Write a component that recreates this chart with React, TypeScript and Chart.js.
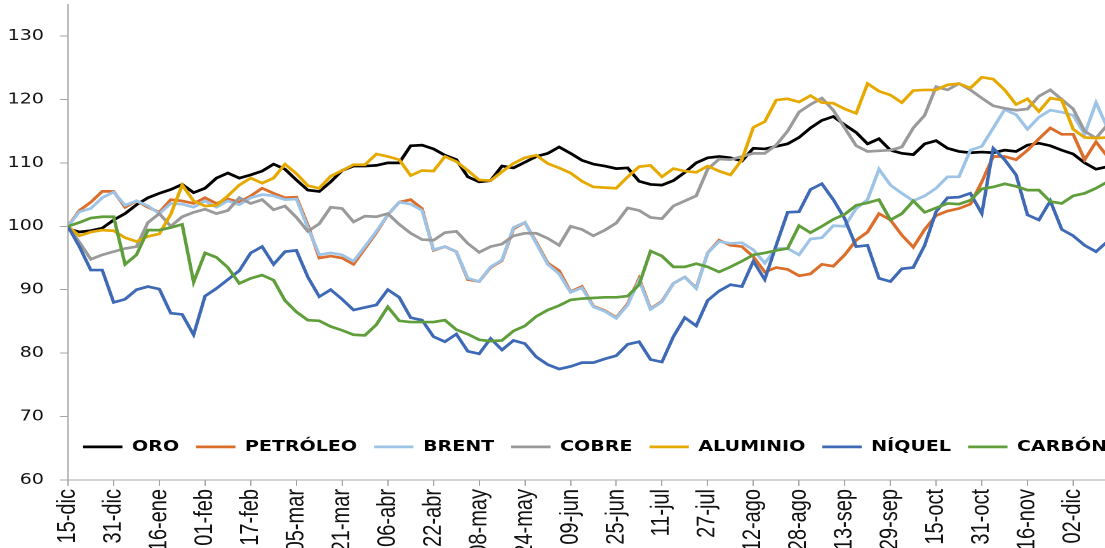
import React, { useEffect, useRef } from 'react';
import { Chart, registerables } from 'chart.js';

Chart.register(...registerables);

// Day offsets from 15-dic (x values of every sampled point)
const DAYS = [
  0, 4, 8, 12, 16, 20, 24, 28, 32, 36, 40, 44, 48, 52, 56, 60, 64, 68, 72, 76,
  80, 84, 88, 92, 96, 100, 104, 108, 112, 116, 120, 124, 128, 132, 136, 140, 144, 148, 152, 156,
  160, 164, 168, 172, 176, 180, 184, 188, 192, 196, 200, 204, 208, 212, 216, 220, 224, 228, 232, 236,
  240, 244, 248, 252, 256, 260, 264, 268, 272, 276, 280, 284, 288, 292, 296, 300, 304, 308, 312, 316,
  320, 324, 328, 332, 336, 340, 344, 348, 352, 356, 360, 364,
];

const TICK_LABELS = [
  '15-dic', '31-dic', '16-ene', '01-feb', '17-feb', '05-mar', '21-mar', '06-abr', '22-abr', '08-may',
  '24-may', '09-jun', '25-jun', '11-jul', '27-jul', '12-ago', '28-ago', '13-sep', '29-sep', '15-oct',
  '31-oct', '16-nov', '02-dic',
];

const ORO = [
  99.6, 99.1, 99.3, 99.7, 101, 102, 103.4, 104.5, 105.2, 105.8,
  106.6, 105.3, 106, 107.6, 108.4, 107.6, 108.1, 108.7, 109.8, 109,
  107.3, 105.7, 105.5, 107, 108.8, 109.5, 109.5, 109.6, 110, 110,
  112.7, 112.8, 112.2, 111.2, 110.5, 107.8, 107, 107.2, 109.5, 109.2,
  110.1, 111, 111.5, 112.5, 111.5, 110.4, 109.8, 109.5, 109.1, 109.2,
  107.1, 106.6, 106.5, 107.2, 108.5, 110, 110.8, 111, 110.8, 110.3,
  112.3, 112.2, 112.6, 113, 114, 115.5, 116.7, 117.3, 116, 114.8,
  113, 113.8, 112, 111.5, 111.3, 113, 113.5, 112.3, 111.8, 111.6,
  111.7, 111.6, 112, 111.8, 112.8, 113.1, 112.7, 112, 111.4, 110,
  109, 109.4,
];

const PETROLEO = [
  100, 102.5, 103.8, 105.5, 105.5, 103, 104, 103, 102.2, 104.2,
  104, 103.6, 104.5, 103.6, 104.3, 103.8, 104.8, 106, 105.2, 104.5,
  104.6, 100.2, 95, 95.3, 95, 94, 96.5, 99, 101.8, 103.8,
  104.2, 102.8, 96.2, 96.8, 96, 91.6, 91.3, 93.5, 94.6, 99.6,
  100.6, 97.5, 94.2, 93, 89.7, 90.5, 87.4, 86.7, 85.6, 87.8,
  91.8, 87, 88.2, 91, 92, 90.3, 95.8, 97.8, 97, 96.8,
  95.2, 92.8, 93.5, 93.2, 92.2, 92.5, 94, 93.7, 95.5, 97.8,
  99.1, 102, 101, 98.6, 96.7, 99.5, 101.7, 102.4, 102.8, 103.5,
  107, 111, 111, 110.5, 112, 113.8, 115.5, 114.5, 114.5, 110.5,
  113.3, 111,
];

const BRENT = [
  100, 102.3, 102.8, 104.5, 105.4, 103.3, 104, 103.2, 102, 103.6,
  103.5, 103, 104, 103, 104, 103.4, 104.5, 105, 104.8, 104.2,
  104.3, 99.8, 95.5, 95.8, 95.5, 94.5, 96.8, 99.2, 101.8, 103.8,
  103.5, 102.5, 96.3, 96.8, 96, 91.8, 91.3, 93.6, 94.7, 99.8,
  100.6, 97.3, 94, 92.5, 89.6, 90.3, 87.3, 86.6, 85.5, 87.6,
  91.5, 86.9, 88.1, 91, 92, 90.2, 95.8, 97.6, 97.3, 97.4,
  96.3, 94.2, 96.5, 96.5, 95.5, 98, 98.2, 100.1, 100, 102.8,
  104.2, 109, 106.5, 105.2, 104, 104.8, 106, 107.8, 107.8, 112,
  112.6, 115.5, 118.4, 117.6, 115.3, 117.2, 118.3, 118, 117.5, 114.5,
  119.5, 115.5,
];

const COBRE = [
  100, 97.5, 94.8, 95.5, 96, 96.5, 96.8, 100.6, 102, 100,
  101.5, 102.2, 102.7, 102, 102.5, 104.5, 103.6, 104.2, 102.6, 103.2,
  101.4, 99.2, 100.4, 103, 102.8, 100.7, 101.6, 101.5, 102, 100.3,
  98.9, 97.9, 97.8, 99, 99.2, 97.3, 95.9, 96.8, 97.2, 98.5,
  98.9, 98.9, 98.1, 97, 100, 99.5, 98.5, 99.4, 100.5, 102.9,
  102.5, 101.4, 101.2, 103.2, 104, 104.8, 109, 110.6, 110.5, 111,
  111.5, 111.5, 112.8, 115, 118, 119.2, 120.2, 118.3, 115.5, 112.7,
  111.8, 111.9, 112, 112.5, 115.5, 117.5, 122, 121.5, 122.5, 121.5,
  120.2, 119, 118.6, 118.3, 118.5, 120.5, 121.5, 120, 118.5, 115,
  113.9, 116,
];

const ALUMINIO = [
  100, 98.5, 99.1, 99.4, 99.3, 98.2, 97.6, 98.4, 98.8, 101.9,
  106.5, 104, 103.2, 103.3, 104.8, 106.5, 107.6, 106.8, 107.6, 109.8,
  108.3, 106.4, 106, 107.9, 108.8, 109.7, 109.7, 111.4, 111, 110.5,
  108, 108.8, 108.7, 111, 110.2, 108.8, 107.3, 107.2, 108.6, 109.9,
  110.8, 111.2, 109.9, 109.2, 108.4, 107.1, 106.2, 106.1, 106, 107.8,
  109.4, 109.6, 107.8, 109.1, 108.7, 108.5, 109.5, 108.7, 108.1, 110.5,
  115.6, 116.5, 119.9, 120.1, 119.6, 120.6, 119.5, 119.4, 118.5, 117.8,
  122.5, 121.3, 120.7, 119.5, 121.4, 121.5, 121.5, 122.3, 122.5, 121.8,
  123.5, 123.2, 121.5, 119.2, 120.1, 118.1, 120.2, 119.9, 115.3, 114,
  113.9, 114,
];

const NIQUEL = [
  100, 96.8, 93.1, 93.1, 88, 88.5, 90, 90.5, 90.1, 86.3,
  86.1, 82.9, 89, 90.2, 91.6, 93, 95.8, 96.8, 94, 96,
  96.2, 92, 88.9, 90, 88.5, 86.8, 87.2, 87.6, 90, 88.8,
  85.6, 85.2, 82.6, 81.8, 83, 80.3, 79.9, 82.3, 80.5, 82,
  81.5, 79.4, 78.2, 77.5, 77.9, 78.5, 78.5, 79.1, 79.6, 81.4,
  81.8, 79, 78.6, 82.6, 85.6, 84.3, 88.3, 89.8, 90.8, 90.5,
  94.5, 91.6, 97, 102.2, 102.3, 105.8, 106.7, 104.2, 101.2, 96.8,
  97, 91.8, 91.3, 93.3, 93.5, 97, 102.3, 104.5, 104.6, 105.2,
  102, 112.3, 110.5, 108.1, 101.8, 101, 104, 99.5, 98.5, 97,
  96, 97.6,
];

const CARBON = [
  100, 100.6, 101.3, 101.5, 101.5, 94, 95.5, 99.4, 99.4, 99.8,
  100.3, 91.2, 95.8, 95.1, 93.5, 91, 91.8, 92.3, 91.5, 88.3,
  86.5, 85.2, 85.1, 84.2, 83.6, 82.9, 82.8, 84.5, 87.3, 85.1,
  84.9, 84.9, 84.9, 85.2, 83.7, 83, 82.1, 81.9, 82, 83.5,
  84.3, 85.8, 86.8, 87.5, 88.4, 88.6, 88.7, 88.8, 88.8, 89,
  90.8, 96.1, 95.3, 93.6, 93.6, 94.1, 93.6, 92.8, 93.6, 94.5,
  95.5, 95.8, 96.2, 96.5, 100.1, 99, 100, 101.1, 101.9, 103.3,
  103.7, 104.2, 101, 102, 104, 102.2, 102.9, 103.6, 103.5, 104.1,
  105.9, 106.2, 106.7, 106.3, 105.7, 105.7, 103.9, 103.6, 104.8, 105.2,
  106, 107,
];

const SERIES_NAMES = ['ORO', 'PETRÓLEO', 'BRENT', 'COBRE', 'ALUMINIO', 'NÍQUEL', 'CARBÓN'];
const SERIES_VALUES = [ORO, PETROLEO, BRENT, COBRE, ALUMINIO, NIQUEL, CARBON];
const SERIES_COLORS = ['#000000', '#DC6E2B', '#9DC3E6', '#9A9A9A', '#E6A900', '#3E69B5', '#5F9E3B'];

const STRETCH = 1.27; // horizontal stretch of the whole picture
const CW = 872;
const CH = 640;
const AXIS_Y = 480;
const GRAY = '#A6A6A6';

export default function App() {
  const ref = useRef<HTMLCanvasElement>(null);

  useEffect(() => {
    const canvas = ref.current;
    if (!canvas) return;

    const legendInside = {
      id: 'legendInside',
      afterLayout(chart: any) {
        const lg = chart.legend;
        if (!lg) return;
        const h = lg.height;
        const w = lg.width;
        lg.top = 426;
        lg.bottom = 426 + h;
        lg.left = 52;
        lg.right = 52 + w;
      },
    };

    const chart = new Chart(canvas, {
      type: 'line',
      data: {
        labels: DAYS,
        datasets: SERIES_NAMES.map((name, i) => ({
          label: name,
          data: SERIES_VALUES[i],
          borderColor: SERIES_COLORS[i],
          backgroundColor: SERIES_COLORS[i],
          borderWidth: 2.7,
          pointRadius: 0,
          pointHoverRadius: 0,
          tension: 0,
          fill: false,
          order: SERIES_NAMES.length - i,
        })),
      },
      options: {
        responsive: false,
        animation: false,
        devicePixelRatio: 2,
        events: [],
        layout: { padding: { top: 4.3, left: 0, right: 0, bottom: 0 } },
        plugins: {
          title: { display: false },
          tooltip: { enabled: false },
          legend: {
            display: true,
            position: 'bottom',
            align: 'start',
            labels: {
              usePointStyle: true,
              pointStyle: 'line',
              pointStyleWidth: 31,
              padding: 13.4,
              color: '#000',
              font: { family: 'DejaVu Sans', size: 15, weight: 'bold' },
              sort: (a: any, b: any) => a.datasetIndex - b.datasetIndex,
            },
          },
        },
        scales: {
          x: {
            type: 'linear',
            min: 0,
            max: 364,
            border: { display: true, color: GRAY, width: 1 },
            grid: { display: true, drawOnChartArea: false, drawTicks: true, tickLength: 6, color: GRAY },
            ticks: {
              stepSize: 16,
              autoSkip: false,
              minRotation: 90,
              maxRotation: 90,
              padding: 3,
              color: '#111',
              font: { family: 'Liberation Sans', size: 20 },
              callback: (v: any) => {
                const idx = Math.round(Number(v) / 16);
                return TICK_LABELS[idx] ?? '';
              },
            },
            afterBuildTicks: (s: any) => {
              s.ticks = s.ticks.filter((t: any) => t.value % 16 === 0 && t.value <= 352);
            },
            afterFit: (s: any) => {
              const lh = s.chart.legend ? s.chart.legend.height : 0;
              s.height = CH - AXIS_Y - lh;
              s.paddingLeft = 0;
              s.paddingRight = 0;
            },
          },
          y: {
            min: 60,
            max: 135,
            border: { display: true, color: GRAY, width: 1 },
            grid: { display: true, drawOnChartArea: false, drawTicks: true, tickLength: 6.3, color: GRAY },
            ticks: {
              stepSize: 10,
              padding: 12.6,
              color: '#111',
              font: { family: 'DejaVu Sans', size: 15 },
            },
            afterBuildTicks: (s: any) => {
              s.ticks = s.ticks.filter((t: any) => t.value % 10 === 0);
            },
            afterFit: (s: any) => {
              s.width = 53.5;
              s.paddingTop = 0;
              s.paddingBottom = 0;
            },
          },
        },
      },
      plugins: [legendInside],
    } as any);

    return () => chart.destroy();
  }, []);

  return (
    <div
      style={{
        position: 'fixed',
        left: 0,
        top: 0,
        width: 1105,
        height: 548,
        overflow: 'hidden',
        background: '#ffffff',
      }}
    >
      <div style={{ transform: `scaleX(${STRETCH})`, transformOrigin: '0 0', width: CW, height: CH }}>
        <canvas ref={ref} width={CW} height={CH} style={{ display: 'block', width: CW, height: CH }} />
      </div>
    </div>
  );
}
